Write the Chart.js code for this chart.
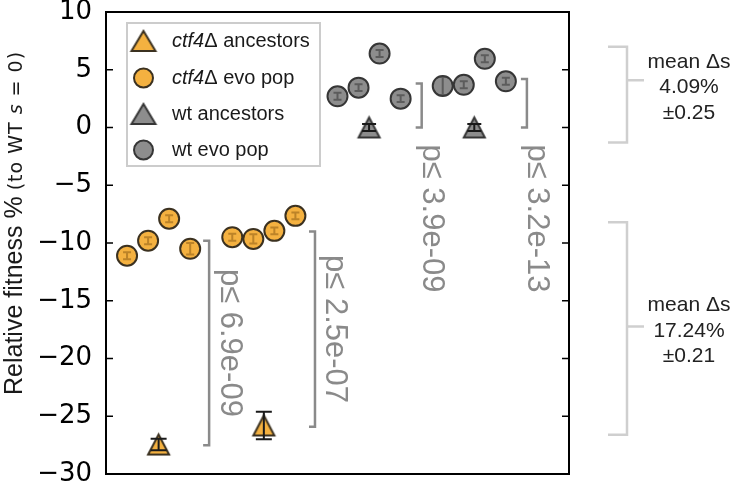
<!DOCTYPE html>
<html>
<head>
<meta charset="utf-8">
<script src="https://cdn.jsdelivr.net/npm/chart.js@4.4.1/dist/chart.umd.min.js"></script>
<style>
  html, body { margin: 0; padding: 0; background: #fff; }
</style>
</head>
<body>
<canvas id="chart" width="735" height="486"></canvas>
<script>
// replicate slots along x (the x axis itself is not drawn)
const ctf4EvoX = [0, 1, 2, 3, 5, 6, 7, 8];
const ctf4EvoY = [-11.1, -9.8, -7.9, -10.5, -9.5, -9.65, -8.95, -7.65];
const ctf4EvoErr = [0.3, 0.3, 0.3, 0.5, 0.3, 0.4, 0.3, 0.3];
const ctf4AncX = [1.5, 6.5];
const ctf4AncY = [-27.45, -25.8];
const ctf4AncErr = [0.5, 1.2];
const wtEvoX = [10, 11, 12, 13, 15, 16, 17, 18];
const wtEvoY = [2.7, 3.45, 6.4, 2.5, 3.6, 3.7, 5.95, 4.0];
const wtEvoErr = [0.3, 0.3, 0.3, 0.3, 0.8, 0.3, 0.3, 0.3];
const wtAncX = [11.5, 16.5];
const wtAncY = [0, 0];
const wtAncErr = [0.3, 0.3];

const yTicks = [10, 5, 0, -5, -10, -15, -20, -25, -30];

// p-value brackets: evolved mean vs ancestor
const pX = [3.9, 8.93, 14.0, 19.0];
const pTop = [-9.8, -9.0, 3.8, 4.2];
const pBottom = [-27.5, -25.9, 0, 0];
const pLabels = ['p\u2264 6.9e-09', 'p\u2264 2.5e-07', 'p\u2264 3.9e-09', 'p\u2264 3.2e-13'];

const meanDs = ['4.09%', '17.24%'];
const meanDsErr = ['\u00b10.25', '\u00b10.21'];

const ORANGE = '#f4b140', ORANGE_EDGE = '#3b3120';
const GREY = '#8d8d8d', GREY_EDGE = '#363636';

function triangle(fill, edge, w, h) {
  const c = document.createElement('canvas');
  c.width = w + 8; c.height = h + 8;
  const g = c.getContext('2d');
  const mx = c.width / 2, my = c.height / 2;
  g.beginPath();
  g.moveTo(mx, my - h / 2); g.lineTo(mx + w / 2, my + h / 2); g.lineTo(mx - w / 2, my + h / 2); g.closePath();
  g.fillStyle = fill; g.fill();
  g.lineWidth = 2; g.strokeStyle = edge; g.stroke();
  return c;
}
const triOrange = triangle(ORANGE, ORANGE_EDGE, 21, 20);
const triGrey = triangle(GREY, GREY_EDGE, 21, 20);
const legTriOrange = triangle(ORANGE, ORANGE_EDGE, 24, 20);
const legTriGrey = triangle(GREY, GREY_EDGE, 24, 20);

const pts = (xs, ys) => xs.map((x, i) => ({x: x, y: ys[i]}));

const extras = {
  id: 'extras',
  afterDatasetsDraw(chart) {
    const ctx = chart.ctx, xs = chart.scales.x, ys = chart.scales.y, a = chart.chartArea;
    ctx.save();
    // error bars
    chart.data.datasets.forEach(ds => {
      ctx.strokeStyle = ds.errColor;
      ctx.lineWidth = 2;
      ds.data.forEach((p, i) => {
        const px = xs.getPixelForValue(p.x);
        const y1 = ys.getPixelForValue(p.y + ds.err[i]);
        const y2 = ys.getPixelForValue(p.y - ds.err[i]);
        ctx.beginPath();
        ctx.moveTo(px, y1); ctx.lineTo(px, y2);
        ctx.moveTo(px - ds.cap, y1); ctx.lineTo(px + ds.cap, y1);
        ctx.moveTo(px - ds.cap, y2); ctx.lineTo(px + ds.cap, y2);
        ctx.stroke();
      });
    });
    // frame + inward ticks
    ctx.strokeStyle = '#000';
    ctx.lineWidth = 2;
    ctx.strokeRect(a.left, a.top, a.right - a.left, a.bottom - a.top);
    ctx.lineWidth = 1.5;
    yTicks.forEach(v => {
      const py = ys.getPixelForValue(v);
      ctx.beginPath();
      ctx.moveTo(a.left, py); ctx.lineTo(a.left + 7, py);
      ctx.moveTo(a.right, py); ctx.lineTo(a.right - 7, py);
      ctx.stroke();
    });
    // p-value brackets
    ctx.strokeStyle = '#8a8a8a';
    ctx.fillStyle = '#8a8a8a';
    ctx.lineWidth = 2.5;
    ctx.font = '31px "Liberation Sans"';
    pX.forEach((xv, i) => {
      const bx = xs.getPixelForValue(xv);
      const t = ys.getPixelForValue(pTop[i]), b = ys.getPixelForValue(pBottom[i]);
      ctx.beginPath();
      ctx.moveTo(bx - 6, t); ctx.lineTo(bx, t); ctx.lineTo(bx, b); ctx.lineTo(bx - 6, b);
      ctx.stroke();
      ctx.save();
      if (i < 2) {
        ctx.translate(bx + 20, (t + b) / 2);
        ctx.textAlign = 'center';
      } else {
        ctx.translate(bx + 10, b + 17);
        ctx.textAlign = 'left';
      }
      ctx.rotate(Math.PI / 2);
      ctx.textBaseline = 'middle';
      ctx.fillText(pLabels[i], 0, 0);
      ctx.restore();
    });
    ctx.restore();
  },
  afterDraw(chart) {
    const ctx = chart.ctx, ys = chart.scales.y, a = chart.chartArea;
    ctx.save();
    // y axis title
    ctx.translate(22, 395);
    ctx.rotate(-Math.PI / 2);
    ctx.fillStyle = '#1a1a1a';
    ctx.textBaseline = 'alphabetic';
    ctx.font = '25px "Liberation Sans"';
    ctx.fillText('Relative fitness %', 0, 0);
    let x = ctx.measureText('Relative fitness %').width + 6;
    ctx.letterSpacing = '1px';
    ctx.font = '19px "DejaVu Sans"';
    ctx.fillText('(to WT ', x, 0); x += ctx.measureText('(to WT ').width;
    ctx.font = 'italic 19px "DejaVu Sans"';
    ctx.fillText('s', x, 0); x += ctx.measureText('s').width;
    ctx.font = '19px "DejaVu Sans"';
    ctx.fillText(' = 0)', x, 0);
    ctx.restore();

    // legend
    ctx.save();
    ctx.fillStyle = '#fff';
    ctx.fillRect(127, 23, 193, 143);
    ctx.strokeStyle = '#cccccc';
    ctx.lineWidth = 2;
    ctx.strokeRect(127, 23, 193, 143);
    const rows = [41, 78, 114, 150];
    chart.data.datasets.forEach((ds, i) => {
      const y = rows[i];
      if (ds.legTri) {
        ctx.drawImage(ds.legTri, 143.5 - ds.legTri.width / 2, y - ds.legTri.height / 2);
      } else {
        ctx.beginPath();
        ctx.arc(143.5, y, 9.5, 0, Math.PI * 2);
        ctx.fillStyle = ds.backgroundColor; ctx.fill();
        ctx.lineWidth = 2; ctx.strokeStyle = ds.borderColor; ctx.stroke();
      }
      ctx.fillStyle = '#1a1a1a';
      ctx.textBaseline = 'middle';
      let tx = 172;
      if (ds.italic) {
        ctx.font = 'italic 20px "Liberation Sans"';
        ctx.fillText(ds.italic, tx, y);
        tx += ctx.measureText(ds.italic).width;
      }
      ctx.font = '20px "Liberation Sans"';
      ctx.fillText(ds.rest, tx, y);
    });

    // mean delta-s annotations to the right of the axes
    const notes = [
      {top: 7.0, bottom: -1.3, tick: 4.09, text: 3.45},
      {top: -8.2, bottom: -26.6, tick: -17.24, text: -17.6}
    ];
    notes.forEach((n, i) => {
      const t = ys.getPixelForValue(n.top), b = ys.getPixelForValue(n.bottom);
      const tk = ys.getPixelForValue(n.tick), ty = ys.getPixelForValue(n.text);
      const vx = a.right + 58;
      ctx.strokeStyle = '#cfcfcf';
      ctx.lineWidth = 2.5;
      ctx.beginPath();
      ctx.moveTo(vx - 19, t); ctx.lineTo(vx, t); ctx.lineTo(vx, b); ctx.lineTo(vx - 19, b);
      ctx.moveTo(vx, tk); ctx.lineTo(vx + 17, tk);
      ctx.stroke();
      ctx.fillStyle = '#222';
      ctx.font = '21px "Liberation Sans"';
      ctx.textAlign = 'center';
      ctx.textBaseline = 'middle';
      ctx.fillText('mean \u0394s', a.right + 120, ty - 25.5);
      ctx.fillText(meanDs[i], a.right + 120, ty);
      ctx.fillText(meanDsErr[i], a.right + 120, ty + 25.5);
    });
    ctx.restore();
  }
};

new Chart(document.getElementById('chart'), {
  type: 'scatter',
  data: {
    datasets: [
      {label: 'ctf4\u0394 ancestors', italic: 'ctf4', rest: '\u0394 ancestors',
       data: pts(ctf4AncX, ctf4AncY), err: ctf4AncErr, errColor: '#1a1a1a', cap: 8,
       pointStyle: triOrange, legTri: legTriOrange, backgroundColor: ORANGE, borderColor: ORANGE_EDGE},
      {label: 'ctf4\u0394 evo pop', italic: 'ctf4', rest: '\u0394 evo pop',
       data: pts(ctf4EvoX, ctf4EvoY), err: ctf4EvoErr, errColor: 'rgba(150,100,25,0.6)', cap: 4,
       pointStyle: 'circle', pointRadius: 10, borderWidth: 2, backgroundColor: ORANGE, borderColor: ORANGE_EDGE},
      {label: 'wt ancestors', italic: '', rest: 'wt ancestors',
       data: pts(wtAncX, wtAncY), err: wtAncErr, errColor: '#1a1a1a', cap: 7,
       pointStyle: triGrey, legTri: legTriGrey, backgroundColor: GREY, borderColor: GREY_EDGE},
      {label: 'wt evo pop', italic: '', rest: 'wt evo pop',
       data: pts(wtEvoX, wtEvoY), err: wtEvoErr, errColor: 'rgba(60,60,60,0.6)', cap: 4,
       pointStyle: 'circle', pointRadius: 10, borderWidth: 2, backgroundColor: GREY, borderColor: GREY_EDGE}
    ]
  },
  options: {
    responsive: false,
    devicePixelRatio: 1,
    animation: false,
    layout: {padding: {left: 0, right: 166, top: 12, bottom: 10}},
    plugins: {legend: {display: false}, tooltip: {enabled: false}},
    scales: {
      x: {type: 'linear', min: -1, max: 21, display: false},
      y: {
        min: -30, max: 10,
        afterBuildTicks: s => { s.ticks = yTicks.map(v => ({value: v})); },
        afterFit: s => { s.width = 106; s.paddingTop = 0; s.paddingBottom = 0; },
        grid: {display: false, drawTicks: false},
        border: {display: false},
        ticks: {
          padding: 14, color: '#000',
          font: {family: 'DejaVu Sans', size: 26},
          callback: v => String(v).replace('-', '\u2212')
        }
      }
    }
  },
  plugins: [extras]
});
</script>
</body>
</html>
